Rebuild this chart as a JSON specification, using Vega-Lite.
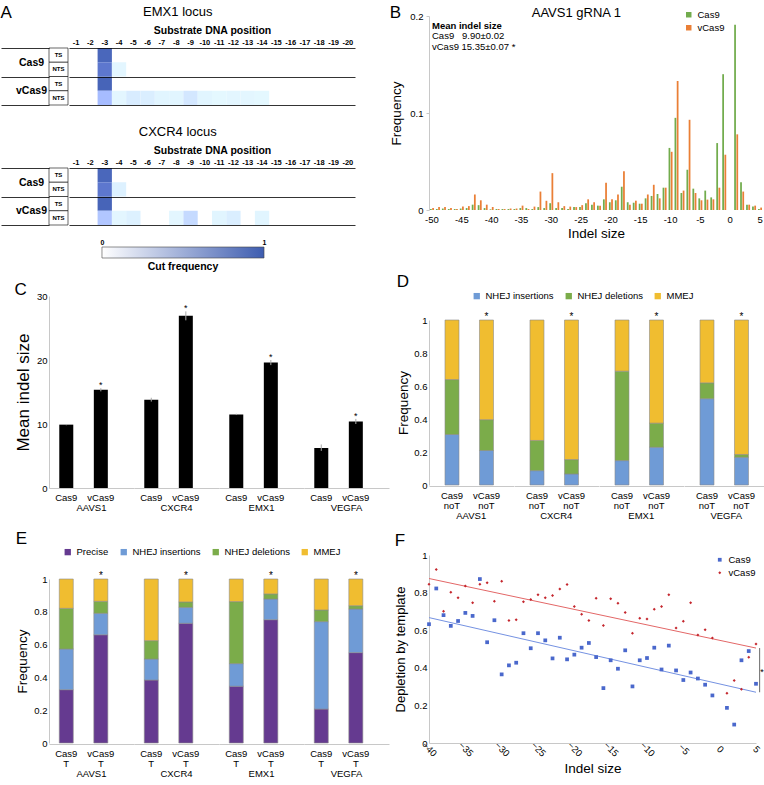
{
  "$schema": "https://vega.github.io/schema/vega-lite/v6.json",
  "padding": {"left": 0, "top": 3, "right": 0, "bottom": 0},
  "background": "white",
  "config": {
    "font": "Liberation Sans",
    "view": {"stroke": null},
    "title": {"font": "Liberation Sans", "fontWeight": "normal", "color": "black"},
    "axis": {"labelFont": "Liberation Sans", "titleFont": "Liberation Sans", "labelColor": "black", "titleColor": "black", "titleFontWeight": "normal", "domainColor": "#c8c8c8", "tickColor": "#c8c8c8", "grid": false, "labelFontSize": 9.5, "ticks": false, "labelOverlap": false},
    "legend": {"labelFont": "Liberation Sans", "labelColor": "black", "labelFontSize": 9.5, "layout": {"top": {"anchor": "middle"}}},
    "header": {"labelFont": "Liberation Sans", "labelColor": "black", "labelFontSize": 9.5}
  },
  "resolve": {"scale": {"color": "independent", "shape": "independent", "size": "independent", "stroke": "independent"}, "legend": {"color": "independent", "shape": "independent", "size": "independent", "stroke": "independent"}},
  "datasets": {
    "rowsA": [
      {"enzyme": "Cas9", "strand": "TS"}, {"enzyme": "Cas9", "strand": "NTS"},
      {"enzyme": "vCas9", "strand": "TS"}, {"enzyme": "vCas9", "strand": "NTS"}
    ],
    "emx1": [
      {"enzyme": "Cas9", "strand": "TS", "pos": -3, "v": 0.93},
      {"enzyme": "Cas9", "strand": "NTS", "pos": -3, "v": 0.82},
      {"enzyme": "Cas9", "strand": "NTS", "pos": -4, "v": 0.03},
      {"enzyme": "vCas9", "strand": "TS", "pos": -3, "v": 0.95},
      {"enzyme": "vCas9", "strand": "NTS", "pos": -3, "v": 0.38},
      {"enzyme": "vCas9", "strand": "NTS", "pos": -4, "v": 0.03},
      {"enzyme": "vCas9", "strand": "NTS", "pos": -5, "v": 0.09},
      {"enzyme": "vCas9", "strand": "NTS", "pos": -6, "v": 0.08},
      {"enzyme": "vCas9", "strand": "NTS", "pos": -7, "v": 0.04},
      {"enzyme": "vCas9", "strand": "NTS", "pos": -8, "v": 0.04},
      {"enzyme": "vCas9", "strand": "NTS", "pos": -9, "v": 0.12},
      {"enzyme": "vCas9", "strand": "NTS", "pos": -10, "v": 0.04},
      {"enzyme": "vCas9", "strand": "NTS", "pos": -11, "v": 0.02},
      {"enzyme": "vCas9", "strand": "NTS", "pos": -12, "v": 0.03},
      {"enzyme": "vCas9", "strand": "NTS", "pos": -13, "v": 0.03},
      {"enzyme": "vCas9", "strand": "NTS", "pos": -14, "v": 0.02}
    ],
    "cxcr4": [
      {"enzyme": "Cas9", "strand": "TS", "pos": -3, "v": 0.93},
      {"enzyme": "Cas9", "strand": "NTS", "pos": -3, "v": 0.82},
      {"enzyme": "Cas9", "strand": "NTS", "pos": -4, "v": 0.06},
      {"enzyme": "vCas9", "strand": "TS", "pos": -3, "v": 0.95},
      {"enzyme": "vCas9", "strand": "NTS", "pos": -3, "v": 0.32},
      {"enzyme": "vCas9", "strand": "NTS", "pos": -4, "v": 0.03},
      {"enzyme": "vCas9", "strand": "NTS", "pos": -5, "v": 0.06},
      {"enzyme": "vCas9", "strand": "NTS", "pos": -8, "v": 0.03},
      {"enzyme": "vCas9", "strand": "NTS", "pos": -9, "v": 0.2},
      {"enzyme": "vCas9", "strand": "NTS", "pos": -11, "v": 0.04},
      {"enzyme": "vCas9", "strand": "NTS", "pos": -12, "v": 0.08},
      {"enzyme": "vCas9", "strand": "NTS", "pos": -14, "v": 0.04}
    ],
    "indels": [
      {"indel": -50, "enzyme": "Cas9", "freq": 0.001}, {"indel": -50, "enzyme": "vCas9", "freq": 0.002},
      {"indel": -49, "enzyme": "Cas9", "freq": 0.001}, {"indel": -49, "enzyme": "vCas9", "freq": 0.003},
      {"indel": -48, "enzyme": "Cas9", "freq": 0.0015}, {"indel": -48, "enzyme": "vCas9", "freq": 0.003},
      {"indel": -47, "enzyme": "Cas9", "freq": 0.001}, {"indel": -47, "enzyme": "vCas9", "freq": 0.002},
      {"indel": -46, "enzyme": "Cas9", "freq": 0.001}, {"indel": -46, "enzyme": "vCas9", "freq": 0.001},
      {"indel": -45, "enzyme": "Cas9", "freq": 0.0015}, {"indel": -45, "enzyme": "vCas9", "freq": 0.0035},
      {"indel": -44, "enzyme": "Cas9", "freq": 0.002}, {"indel": -44, "enzyme": "vCas9", "freq": 0.004},
      {"indel": -43, "enzyme": "Cas9", "freq": 0.0055}, {"indel": -43, "enzyme": "vCas9", "freq": 0.016},
      {"indel": -42, "enzyme": "Cas9", "freq": 0.005}, {"indel": -42, "enzyme": "vCas9", "freq": 0.01},
      {"indel": -41, "enzyme": "Cas9", "freq": 0.002}, {"indel": -41, "enzyme": "vCas9", "freq": 0.0055},
      {"indel": -40, "enzyme": "Cas9", "freq": 0.0007}, {"indel": -40, "enzyme": "vCas9", "freq": 0.003},
      {"indel": -39, "enzyme": "Cas9", "freq": 0.001}, {"indel": -39, "enzyme": "vCas9", "freq": 0.001},
      {"indel": -38, "enzyme": "Cas9", "freq": 0.001}, {"indel": -38, "enzyme": "vCas9", "freq": 0.001},
      {"indel": -37, "enzyme": "Cas9", "freq": 0.001}, {"indel": -37, "enzyme": "vCas9", "freq": 0.0015},
      {"indel": -36, "enzyme": "Cas9", "freq": 0.001}, {"indel": -36, "enzyme": "vCas9", "freq": 0.0015},
      {"indel": -35, "enzyme": "Cas9", "freq": 0.002}, {"indel": -35, "enzyme": "vCas9", "freq": 0.0045},
      {"indel": -34, "enzyme": "Cas9", "freq": 0.002}, {"indel": -34, "enzyme": "vCas9", "freq": 0.001},
      {"indel": -33, "enzyme": "Cas9", "freq": 0.001}, {"indel": -33, "enzyme": "vCas9", "freq": 0.0035},
      {"indel": -32, "enzyme": "Cas9", "freq": 0.003}, {"indel": -32, "enzyme": "vCas9", "freq": 0.019},
      {"indel": -31, "enzyme": "Cas9", "freq": 0.002}, {"indel": -31, "enzyme": "vCas9", "freq": 0.0095},
      {"indel": -30, "enzyme": "Cas9", "freq": 0.007}, {"indel": -30, "enzyme": "vCas9", "freq": 0.038},
      {"indel": -29, "enzyme": "Cas9", "freq": 0.002}, {"indel": -29, "enzyme": "vCas9", "freq": 0.008},
      {"indel": -28, "enzyme": "Cas9", "freq": 0.002}, {"indel": -28, "enzyme": "vCas9", "freq": 0.004},
      {"indel": -27, "enzyme": "Cas9", "freq": 0.001}, {"indel": -27, "enzyme": "vCas9", "freq": 0.0035},
      {"indel": -26, "enzyme": "Cas9", "freq": 0.003}, {"indel": -26, "enzyme": "vCas9", "freq": 0.003},
      {"indel": -25, "enzyme": "Cas9", "freq": 0.003}, {"indel": -25, "enzyme": "vCas9", "freq": 0.005},
      {"indel": -24, "enzyme": "Cas9", "freq": 0.007}, {"indel": -24, "enzyme": "vCas9", "freq": 0.011},
      {"indel": -23, "enzyme": "Cas9", "freq": 0.0055}, {"indel": -23, "enzyme": "vCas9", "freq": 0.008},
      {"indel": -22, "enzyme": "Cas9", "freq": 0.0045}, {"indel": -22, "enzyme": "vCas9", "freq": 0.0045},
      {"indel": -21, "enzyme": "Cas9", "freq": 0.011}, {"indel": -21, "enzyme": "vCas9", "freq": 0.028},
      {"indel": -20, "enzyme": "Cas9", "freq": 0.008}, {"indel": -20, "enzyme": "vCas9", "freq": 0.011},
      {"indel": -19, "enzyme": "Cas9", "freq": 0.01}, {"indel": -19, "enzyme": "vCas9", "freq": 0.016},
      {"indel": -18, "enzyme": "Cas9", "freq": 0.024}, {"indel": -18, "enzyme": "vCas9", "freq": 0.04},
      {"indel": -17, "enzyme": "Cas9", "freq": 0.008}, {"indel": -17, "enzyme": "vCas9", "freq": 0.0055},
      {"indel": -16, "enzyme": "Cas9", "freq": 0.0075}, {"indel": -16, "enzyme": "vCas9", "freq": 0.0096},
      {"indel": -15, "enzyme": "Cas9", "freq": 0.0065}, {"indel": -15, "enzyme": "vCas9", "freq": 0.0065},
      {"indel": -14, "enzyme": "Cas9", "freq": 0.012}, {"indel": -14, "enzyme": "vCas9", "freq": 0.016},
      {"indel": -13, "enzyme": "Cas9", "freq": 0.0145}, {"indel": -13, "enzyme": "vCas9", "freq": 0.026},
      {"indel": -12, "enzyme": "Cas9", "freq": 0.0165}, {"indel": -12, "enzyme": "vCas9", "freq": 0.012},
      {"indel": -11, "enzyme": "Cas9", "freq": 0.023}, {"indel": -11, "enzyme": "vCas9", "freq": 0.023},
      {"indel": -10, "enzyme": "Cas9", "freq": 0.064}, {"indel": -10, "enzyme": "vCas9", "freq": 0.06},
      {"indel": -9, "enzyme": "Cas9", "freq": 0.095}, {"indel": -9, "enzyme": "vCas9", "freq": 0.133},
      {"indel": -8, "enzyme": "Cas9", "freq": 0.0175}, {"indel": -8, "enzyme": "vCas9", "freq": 0.02},
      {"indel": -7, "enzyme": "Cas9", "freq": 0.0415}, {"indel": -7, "enzyme": "vCas9", "freq": 0.093},
      {"indel": -6, "enzyme": "Cas9", "freq": 0.022}, {"indel": -6, "enzyme": "vCas9", "freq": 0.0175},
      {"indel": -5, "enzyme": "Cas9", "freq": 0.012}, {"indel": -5, "enzyme": "vCas9", "freq": 0.01},
      {"indel": -4, "enzyme": "Cas9", "freq": 0.02}, {"indel": -4, "enzyme": "vCas9", "freq": 0.0107},
      {"indel": -3, "enzyme": "Cas9", "freq": 0.013}, {"indel": -3, "enzyme": "vCas9", "freq": 0.011},
      {"indel": -2, "enzyme": "Cas9", "freq": 0.069}, {"indel": -2, "enzyme": "vCas9", "freq": 0.023},
      {"indel": -1, "enzyme": "Cas9", "freq": 0.14}, {"indel": -1, "enzyme": "vCas9", "freq": 0.057},
      {"indel": 1, "enzyme": "Cas9", "freq": 0.191}, {"indel": 1, "enzyme": "vCas9", "freq": 0.078},
      {"indel": 2, "enzyme": "Cas9", "freq": 0.0285}, {"indel": 2, "enzyme": "vCas9", "freq": 0.019},
      {"indel": 3, "enzyme": "Cas9", "freq": 0.0055}, {"indel": 3, "enzyme": "vCas9", "freq": 0.0055},
      {"indel": 4, "enzyme": "Cas9", "freq": 0.0035}, {"indel": 4, "enzyme": "vCas9", "freq": 0.0045},
      {"indel": 5, "enzyme": "Cas9", "freq": 0.001}, {"indel": 5, "enzyme": "vCas9", "freq": 0.0025}
    ],
    "meanIndel": [
      {"gene": "AAVS1", "enzyme": "Cas9", "mean": 9.9, "lo": 9.8, "hi": 10.0, "sig": ""},
      {"gene": "AAVS1", "enzyme": "vCas9", "mean": 15.35, "lo": 15.1, "hi": 15.6, "sig": "*"},
      {"gene": "CXCR4", "enzyme": "Cas9", "mean": 13.8, "lo": 13.5, "hi": 14.1, "sig": ""},
      {"gene": "CXCR4", "enzyme": "vCas9", "mean": 26.9, "lo": 26.2, "hi": 27.6, "sig": "*"},
      {"gene": "EMX1", "enzyme": "Cas9", "mean": 11.5, "lo": 11.4, "hi": 11.6, "sig": ""},
      {"gene": "EMX1", "enzyme": "vCas9", "mean": 19.6, "lo": 19.2, "hi": 20.0, "sig": "*"},
      {"gene": "VEGFA", "enzyme": "Cas9", "mean": 6.25, "lo": 5.8, "hi": 6.8, "sig": ""},
      {"gene": "VEGFA", "enzyme": "vCas9", "mean": 10.4, "lo": 10.0, "hi": 10.8, "sig": "*"}
    ],
    "noT": [
      {"gene": "AAVS1", "enzyme": "Cas9", "cls": "NHEJ insertions", "k": 1, "freq": 0.306},
      {"gene": "AAVS1", "enzyme": "Cas9", "cls": "NHEJ deletions", "k": 2, "freq": 0.333},
      {"gene": "AAVS1", "enzyme": "Cas9", "cls": "MMEJ", "k": 3, "freq": 0.361},
      {"gene": "AAVS1", "enzyme": "vCas9", "cls": "NHEJ insertions", "k": 1, "freq": 0.209},
      {"gene": "AAVS1", "enzyme": "vCas9", "cls": "NHEJ deletions", "k": 2, "freq": 0.187},
      {"gene": "AAVS1", "enzyme": "vCas9", "cls": "MMEJ", "k": 3, "freq": 0.604},
      {"gene": "CXCR4", "enzyme": "Cas9", "cls": "NHEJ insertions", "k": 1, "freq": 0.087},
      {"gene": "CXCR4", "enzyme": "Cas9", "cls": "NHEJ deletions", "k": 2, "freq": 0.183},
      {"gene": "CXCR4", "enzyme": "Cas9", "cls": "MMEJ", "k": 3, "freq": 0.73},
      {"gene": "CXCR4", "enzyme": "vCas9", "cls": "NHEJ insertions", "k": 1, "freq": 0.067},
      {"gene": "CXCR4", "enzyme": "vCas9", "cls": "NHEJ deletions", "k": 2, "freq": 0.087},
      {"gene": "CXCR4", "enzyme": "vCas9", "cls": "MMEJ", "k": 3, "freq": 0.846},
      {"gene": "EMX1", "enzyme": "Cas9", "cls": "NHEJ insertions", "k": 1, "freq": 0.148},
      {"gene": "EMX1", "enzyme": "Cas9", "cls": "NHEJ deletions", "k": 2, "freq": 0.542},
      {"gene": "EMX1", "enzyme": "Cas9", "cls": "MMEJ", "k": 3, "freq": 0.31},
      {"gene": "EMX1", "enzyme": "vCas9", "cls": "NHEJ insertions", "k": 1, "freq": 0.229},
      {"gene": "EMX1", "enzyme": "vCas9", "cls": "NHEJ deletions", "k": 2, "freq": 0.146},
      {"gene": "EMX1", "enzyme": "vCas9", "cls": "MMEJ", "k": 3, "freq": 0.625},
      {"gene": "VEGFA", "enzyme": "Cas9", "cls": "NHEJ insertions", "k": 1, "freq": 0.523},
      {"gene": "VEGFA", "enzyme": "Cas9", "cls": "NHEJ deletions", "k": 2, "freq": 0.096},
      {"gene": "VEGFA", "enzyme": "Cas9", "cls": "MMEJ", "k": 3, "freq": 0.381},
      {"gene": "VEGFA", "enzyme": "vCas9", "cls": "NHEJ insertions", "k": 1, "freq": 0.168},
      {"gene": "VEGFA", "enzyme": "vCas9", "cls": "NHEJ deletions", "k": 2, "freq": 0.017},
      {"gene": "VEGFA", "enzyme": "vCas9", "cls": "MMEJ", "k": 3, "freq": 0.815}
    ],
    "withT": [
      {"gene": "AAVS1", "enzyme": "Cas9", "cls": "Precise", "k": 1, "freq": 0.325},
      {"gene": "AAVS1", "enzyme": "Cas9", "cls": "NHEJ insertions", "k": 2, "freq": 0.248},
      {"gene": "AAVS1", "enzyme": "Cas9", "cls": "NHEJ deletions", "k": 3, "freq": 0.248},
      {"gene": "AAVS1", "enzyme": "Cas9", "cls": "MMEJ", "k": 4, "freq": 0.179},
      {"gene": "AAVS1", "enzyme": "vCas9", "cls": "Precise", "k": 1, "freq": 0.66},
      {"gene": "AAVS1", "enzyme": "vCas9", "cls": "NHEJ insertions", "k": 2, "freq": 0.131},
      {"gene": "AAVS1", "enzyme": "vCas9", "cls": "NHEJ deletions", "k": 3, "freq": 0.073},
      {"gene": "AAVS1", "enzyme": "vCas9", "cls": "MMEJ", "k": 4, "freq": 0.136},
      {"gene": "CXCR4", "enzyme": "Cas9", "cls": "Precise", "k": 1, "freq": 0.384},
      {"gene": "CXCR4", "enzyme": "Cas9", "cls": "NHEJ insertions", "k": 2, "freq": 0.128},
      {"gene": "CXCR4", "enzyme": "Cas9", "cls": "NHEJ deletions", "k": 3, "freq": 0.112},
      {"gene": "CXCR4", "enzyme": "Cas9", "cls": "MMEJ", "k": 4, "freq": 0.376},
      {"gene": "CXCR4", "enzyme": "vCas9", "cls": "Precise", "k": 1, "freq": 0.73},
      {"gene": "CXCR4", "enzyme": "vCas9", "cls": "NHEJ insertions", "k": 2, "freq": 0.097},
      {"gene": "CXCR4", "enzyme": "vCas9", "cls": "NHEJ deletions", "k": 3, "freq": 0.033},
      {"gene": "CXCR4", "enzyme": "vCas9", "cls": "MMEJ", "k": 4, "freq": 0.14},
      {"gene": "EMX1", "enzyme": "Cas9", "cls": "Precise", "k": 1, "freq": 0.346},
      {"gene": "EMX1", "enzyme": "Cas9", "cls": "NHEJ insertions", "k": 2, "freq": 0.138},
      {"gene": "EMX1", "enzyme": "Cas9", "cls": "NHEJ deletions", "k": 3, "freq": 0.378},
      {"gene": "EMX1", "enzyme": "Cas9", "cls": "MMEJ", "k": 4, "freq": 0.138},
      {"gene": "EMX1", "enzyme": "vCas9", "cls": "Precise", "k": 1, "freq": 0.752},
      {"gene": "EMX1", "enzyme": "vCas9", "cls": "NHEJ insertions", "k": 2, "freq": 0.126},
      {"gene": "EMX1", "enzyme": "vCas9", "cls": "NHEJ deletions", "k": 3, "freq": 0.031},
      {"gene": "EMX1", "enzyme": "vCas9", "cls": "MMEJ", "k": 4, "freq": 0.091},
      {"gene": "VEGFA", "enzyme": "Cas9", "cls": "Precise", "k": 1, "freq": 0.207},
      {"gene": "VEGFA", "enzyme": "Cas9", "cls": "NHEJ insertions", "k": 2, "freq": 0.533},
      {"gene": "VEGFA", "enzyme": "Cas9", "cls": "NHEJ deletions", "k": 3, "freq": 0.071},
      {"gene": "VEGFA", "enzyme": "Cas9", "cls": "MMEJ", "k": 4, "freq": 0.189},
      {"gene": "VEGFA", "enzyme": "vCas9", "cls": "Precise", "k": 1, "freq": 0.551},
      {"gene": "VEGFA", "enzyme": "vCas9", "cls": "NHEJ insertions", "k": 2, "freq": 0.266},
      {"gene": "VEGFA", "enzyme": "vCas9", "cls": "NHEJ deletions", "k": 3, "freq": 0.02},
      {"gene": "VEGFA", "enzyme": "vCas9", "cls": "MMEJ", "k": 4, "freq": 0.163}
    ],
    "depletion": [
      {"indel": -40, "enzyme": "Cas9", "dep": 0.632}, {"indel": -39, "enzyme": "Cas9", "dep": 0.822},
      {"indel": -38, "enzyme": "Cas9", "dep": 0.68}, {"indel": -37, "enzyme": "Cas9", "dep": 0.623},
      {"indel": -36, "enzyme": "Cas9", "dep": 0.649}, {"indel": -35, "enzyme": "Cas9", "dep": 0.692},
      {"indel": -34, "enzyme": "Cas9", "dep": 0.676}, {"indel": -33, "enzyme": "Cas9", "dep": 0.872},
      {"indel": -32, "enzyme": "Cas9", "dep": 0.536}, {"indel": -31, "enzyme": "Cas9", "dep": 0.653},
      {"indel": -30, "enzyme": "Cas9", "dep": 0.365}, {"indel": -29, "enzyme": "Cas9", "dep": 0.413},
      {"indel": -28, "enzyme": "Cas9", "dep": 0.427}, {"indel": -27, "enzyme": "Cas9", "dep": 0.584},
      {"indel": -26, "enzyme": "Cas9", "dep": 0.504}, {"indel": -25, "enzyme": "Cas9", "dep": 0.584},
      {"indel": -24, "enzyme": "Cas9", "dep": 0.546}, {"indel": -23, "enzyme": "Cas9", "dep": 0.45},
      {"indel": -22, "enzyme": "Cas9", "dep": 0.56}, {"indel": -21, "enzyme": "Cas9", "dep": 0.445},
      {"indel": -20, "enzyme": "Cas9", "dep": 0.47}, {"indel": -19, "enzyme": "Cas9", "dep": 0.507},
      {"indel": -18, "enzyme": "Cas9", "dep": 0.532}, {"indel": -17, "enzyme": "Cas9", "dep": 0.457},
      {"indel": -16, "enzyme": "Cas9", "dep": 0.292}, {"indel": -15, "enzyme": "Cas9", "dep": 0.44},
      {"indel": -14, "enzyme": "Cas9", "dep": 0.395}, {"indel": -13, "enzyme": "Cas9", "dep": 0.493},
      {"indel": -12, "enzyme": "Cas9", "dep": 0.301}, {"indel": -11, "enzyme": "Cas9", "dep": 0.44},
      {"indel": -10, "enzyme": "Cas9", "dep": 0.452}, {"indel": -9, "enzyme": "Cas9", "dep": 0.507},
      {"indel": -8, "enzyme": "Cas9", "dep": 0.391}, {"indel": -7, "enzyme": "Cas9", "dep": 0.518},
      {"indel": -6, "enzyme": "Cas9", "dep": 0.386}, {"indel": -5, "enzyme": "Cas9", "dep": 0.335},
      {"indel": -4, "enzyme": "Cas9", "dep": 0.375}, {"indel": -3, "enzyme": "Cas9", "dep": 0.343},
      {"indel": -2, "enzyme": "Cas9", "dep": 0.31}, {"indel": -1, "enzyme": "Cas9", "dep": 0.253},
      {"indel": 1, "enzyme": "Cas9", "dep": 0.187}, {"indel": 2, "enzyme": "Cas9", "dep": 0.098},
      {"indel": 3, "enzyme": "Cas9", "dep": 0.44}, {"indel": 4, "enzyme": "Cas9", "dep": 0.489},
      {"indel": 5, "enzyme": "Cas9", "dep": 0.315},
      {"indel": -40, "enzyme": "vCas9", "dep": 0.845}, {"indel": -39, "enzyme": "vCas9", "dep": 0.923},
      {"indel": -38, "enzyme": "vCas9", "dep": 0.701}, {"indel": -37, "enzyme": "vCas9", "dep": 0.802},
      {"indel": -36, "enzyme": "vCas9", "dep": 0.772}, {"indel": -35, "enzyme": "vCas9", "dep": 0.835},
      {"indel": -34, "enzyme": "vCas9", "dep": 0.746}, {"indel": -33, "enzyme": "vCas9", "dep": 0.845},
      {"indel": -32, "enzyme": "vCas9", "dep": 0.852}, {"indel": -31, "enzyme": "vCas9", "dep": 0.754},
      {"indel": -30, "enzyme": "vCas9", "dep": 0.861}, {"indel": -29, "enzyme": "vCas9", "dep": 0.651},
      {"indel": -28, "enzyme": "vCas9", "dep": 0.655}, {"indel": -27, "enzyme": "vCas9", "dep": 0.751},
      {"indel": -26, "enzyme": "vCas9", "dep": 0.763}, {"indel": -25, "enzyme": "vCas9", "dep": 0.788},
      {"indel": -24, "enzyme": "vCas9", "dep": 0.772}, {"indel": -23, "enzyme": "vCas9", "dep": 0.785},
      {"indel": -22, "enzyme": "vCas9", "dep": 0.819}, {"indel": -21, "enzyme": "vCas9", "dep": 0.843},
      {"indel": -20, "enzyme": "vCas9", "dep": 0.726}, {"indel": -19, "enzyme": "vCas9", "dep": 0.685},
      {"indel": -18, "enzyme": "vCas9", "dep": 0.651}, {"indel": -17, "enzyme": "vCas9", "dep": 0.77},
      {"indel": -16, "enzyme": "vCas9", "dep": 0.625}, {"indel": -15, "enzyme": "vCas9", "dep": 0.767},
      {"indel": -14, "enzyme": "vCas9", "dep": 0.744}, {"indel": -13, "enzyme": "vCas9", "dep": 0.694},
      {"indel": -12, "enzyme": "vCas9", "dep": 0.584}, {"indel": -11, "enzyme": "vCas9", "dep": 0.664},
      {"indel": -10, "enzyme": "vCas9", "dep": 0.66}, {"indel": -9, "enzyme": "vCas9", "dep": 0.712},
      {"indel": -8, "enzyme": "vCas9", "dep": 0.726}, {"indel": -7, "enzyme": "vCas9", "dep": 0.788},
      {"indel": -6, "enzyme": "vCas9", "dep": 0.612}, {"indel": -5, "enzyme": "vCas9", "dep": 0.648},
      {"indel": -4, "enzyme": "vCas9", "dep": 0.746}, {"indel": -3, "enzyme": "vCas9", "dep": 0.575},
      {"indel": -2, "enzyme": "vCas9", "dep": 0.603}, {"indel": -1, "enzyme": "vCas9", "dep": 0.559},
      {"indel": 1, "enzyme": "vCas9", "dep": 0.265}, {"indel": 2, "enzyme": "vCas9", "dep": 0.333},
      {"indel": 3, "enzyme": "vCas9", "dep": 0.286}, {"indel": 4, "enzyme": "vCas9", "dep": 0.456},
      {"indel": 5, "enzyme": "vCas9", "dep": 0.527}
    ],
    "fits": [
      {"indel": -40, "series": "Cas9 fit", "dep": 0.667}, {"indel": 5, "series": "Cas9 fit", "dep": 0.27},
      {"indel": -40, "series": "vCas9 fit", "dep": 0.875}, {"indel": 5, "series": "vCas9 fit", "dep": 0.505}
    ]
  },
  "concat": [
    {
      "resolve": {"scale": {"color": "independent", "shape": "independent", "size": "independent", "stroke": "independent"}, "legend": {"color": "independent", "shape": "independent", "size": "independent", "stroke": "independent"}},
      "concat": [
        {"width": 1, "height": 1, "data": {"values": [{}]}, "mark": {"type": "rect", "opacity": 0}, "encoding": {}},
        {
          "resolve": {"scale": {"color": "independent", "shape": "independent", "size": "independent", "stroke": "independent"}, "legend": {"color": "independent", "shape": "independent", "size": "independent", "stroke": "independent"}},
          "concat": [
            {
              "title": {"text": "A", "anchor": "start", "frame": "bounds", "offset": -16, "fontSize": 17},
              "vconcat": [
                {
                  "title": {"text": "EMX1 locus", "fontSize": 13, "offset": 6, "anchor": "middle"},
                  "hconcat": [
                    {
                      "width": 19, "height": 57,
                      "data": {"name": "rowsA"},
                      "encoding": {
                        "y": {"field": "enzyme", "type": "nominal", "scale": {"domain": ["Cas9", "vCas9"], "paddingInner": 0, "paddingOuter": 0},
                          "axis": {"title": null, "domain": false, "ticks": true, "tickSize": 48, "tickBand": "extent", "tickColor": "black", "tickWidth": 0.8, "labelAlign": "center", "labelPadding": -30, "labelFontSize": 10.5, "labelFontWeight": "bold", "labelBaseline": "middle"}},
                        "yOffset": {"field": "strand", "type": "nominal", "scale": {"domain": ["TS", "NTS"], "paddingInner": 0, "paddingOuter": 0}}
                      },
                      "layer": [
                        {"mark": {"type": "rect", "fill": "white", "stroke": "black", "strokeWidth": 0.6}},
                        {"mark": {"type": "text", "fontSize": 6, "fontWeight": "bold"}, "encoding": {"text": {"field": "strand"}}}
                      ]
                    },
                    {
                      "width": 286, "height": 57,
                      "data": {"name": "emx1"},
                      "mark": {"type": "rect"},
                      "encoding": {
                        "x": {"field": "pos", "type": "ordinal", "scale": {"domain": [-1,-2,-3,-4,-5,-6,-7,-8,-9,-10,-11,-12,-13,-14,-15,-16,-17,-18,-19,-20], "paddingInner": 0, "paddingOuter": 0},
                          "axis": {"orient": "top", "title": "Substrate DNA position", "titleFontSize": 10.5, "titleFontWeight": "bold", "titlePadding": 3, "labelFontSize": 7.5, "labelFontWeight": "bold", "labelAngle": 0, "labelPadding": 2, "domain": false, "ticks": false}},
                        "y": {"field": "enzyme", "type": "nominal", "scale": {"domain": ["Cas9", "vCas9"], "paddingInner": 0, "paddingOuter": 0},
                          "axis": {"title": null, "labels": false, "domain": false, "ticks": false, "grid": true, "gridColor": "black", "gridWidth": 0.8, "gridOpacity": 1, "tickBand": "extent", "zindex": 1}},
                        "yOffset": {"field": "strand", "type": "nominal", "scale": {"domain": ["TS", "NTS"], "paddingInner": 0, "paddingOuter": 0}},
                        "color": {"field": "v", "type": "quantitative", "scale": {"domain": [0, 1], "range": ["#ffffff", "#3E5DB0"]}, "legend": null}
                      }
                    }
                  ],
                  "spacing": 0
                },
                {
                  "vconcat": [
                    {
                      "title": {"text": "CXCR4 locus", "fontSize": 13, "offset": 6, "anchor": "middle"},
                      "hconcat": [
                        {
                          "width": 19, "height": 57,
                          "data": {"name": "rowsA"},
                          "encoding": {
                            "y": {"field": "enzyme", "type": "nominal", "scale": {"domain": ["Cas9", "vCas9"], "paddingInner": 0, "paddingOuter": 0},
                              "axis": {"title": null, "domain": false, "ticks": true, "tickSize": 48, "tickBand": "extent", "tickColor": "black", "tickWidth": 0.8, "labelAlign": "center", "labelPadding": -30, "labelFontSize": 10.5, "labelFontWeight": "bold", "labelBaseline": "middle"}},
                            "yOffset": {"field": "strand", "type": "nominal", "scale": {"domain": ["TS", "NTS"], "paddingInner": 0, "paddingOuter": 0}}
                          },
                          "layer": [
                            {"mark": {"type": "rect", "fill": "white", "stroke": "black", "strokeWidth": 0.6}},
                            {"mark": {"type": "text", "fontSize": 6, "fontWeight": "bold"}, "encoding": {"text": {"field": "strand"}}}
                          ]
                        },
                        {
                          "width": 286, "height": 57,
                          "data": {"name": "cxcr4"},
                          "mark": {"type": "rect"},
                          "encoding": {
                            "x": {"field": "pos", "type": "ordinal", "scale": {"domain": [-1,-2,-3,-4,-5,-6,-7,-8,-9,-10,-11,-12,-13,-14,-15,-16,-17,-18,-19,-20], "paddingInner": 0, "paddingOuter": 0},
                              "axis": {"orient": "top", "title": "Substrate DNA position", "titleFontSize": 10.5, "titleFontWeight": "bold", "titlePadding": 3, "labelFontSize": 7.5, "labelFontWeight": "bold", "labelAngle": 0, "labelPadding": 2, "domain": false, "ticks": false}},
                            "y": {"field": "enzyme", "type": "nominal", "scale": {"domain": ["Cas9", "vCas9"], "paddingInner": 0, "paddingOuter": 0},
                              "axis": {"title": null, "labels": false, "domain": false, "ticks": false, "grid": true, "gridColor": "black", "gridWidth": 0.8, "gridOpacity": 1, "tickBand": "extent", "zindex": 1}},
                            "yOffset": {"field": "strand", "type": "nominal", "scale": {"domain": ["TS", "NTS"], "paddingInner": 0, "paddingOuter": 0}},
                            "color": {"field": "v", "type": "quantitative", "scale": {"domain": [0, 1], "range": ["#ffffff", "#3E5DB0"]}, "legend": null}
                          }
                        }
                      ],
                      "spacing": 0
                    },
                    {
                      "width": 268, "height": 11,
                      "data": {"values": [{"lo": 0, "hi": 1}]},
                      "mark": {"type": "rect", "fill": {"gradient": "linear", "stops": [{"offset": 0, "color": "#ffffff"}, {"offset": 1, "color": "#3E5DB0"}]}, "stroke": "#444444", "strokeWidth": 0.6},
                      "encoding": {
                        "x": {"field": "lo", "type": "quantitative", "scale": {"domain": [-0.327, 1.327], "nice": false, "zero": false}, "axis": {"orient": "top", "values": [0, 1], "format": "~g", "title": null, "domain": false, "ticks": false, "labelFontSize": 7, "labelFontWeight": "bold", "labelFlush": false, "labelPadding": 2, "tickCount": 20}},
                        "x2": {"field": "hi"}
                      },
                      "title": {"text": "Cut frequency", "orient": "bottom", "fontSize": 10.5, "fontWeight": "bold", "offset": 4, "anchor": "middle"}
                    }
                  ],
                  "spacing": 12
                }
              ],
              "spacing": 20
            },
            {
              "resolve": {"scale": {"color": "independent"}, "legend": {"color": "independent"}},
              "concat": [
                {
                  "title": {"text": "C", "anchor": "start", "frame": "bounds", "fontSize": 17, "offset": -8},
                  "data": {"name": "meanIndel"},
                  "facet": {"column": {"field": "gene", "type": "nominal", "sort": ["AAVS1", "CXCR4", "EMX1", "VEGFA"], "header": {"title": null, "labelOrient": "bottom", "labelPadding": 1, "labelFontSize": 9.5}}},
                  "spacing": 0,
                  "spec": {
                    "width": 85, "height": 192,
                    "encoding": {"x": {"field": "enzyme", "type": "nominal", "scale": {"domain": ["Cas9", "vCas9"], "paddingInner": 0, "paddingOuter": 0.23, "align": 0}, "axis": {"title": null, "labelAngle": 0, "labelPadding": 4}}},
                    "layer": [
                      {"mark": {"type": "bar", "size": 14, "color": "black"}, "encoding": {"y": {"field": "mean", "type": "quantitative", "scale": {"domain": [0, 30]}, "axis": {"values": [0, 10, 20, 30], "tickCount": 20, "title": "Mean indel size", "titleFontSize": 17, "titlePadding": 4}}}},
                      {"mark": {"type": "rule", "color": "#aaaaaa", "strokeWidth": 1}, "encoding": {"y": {"field": "lo", "type": "quantitative"}, "y2": {"field": "hi"}}},
                      {"mark": {"type": "text", "fontSize": 9, "baseline": "bottom", "dy": 2}, "encoding": {"y": {"field": "hi", "type": "quantitative"}, "text": {"field": "sig"}}}
                    ]
                  }
                },
                {
                  "title": {"text": "E", "anchor": "start", "frame": "bounds", "fontSize": 17, "offset": -1},
                  "data": {"name": "withT"},
                  "facet": {"column": {"field": "gene", "type": "nominal", "sort": ["AAVS1", "CXCR4", "EMX1", "VEGFA"], "header": {"title": null, "labelOrient": "bottom", "labelPadding": 1, "labelFontSize": 9.5}}},
                  "spacing": 0,
                  "spec": {
                    "width": 85, "height": 164,
                    "encoding": {"x": {"field": "enzyme", "type": "nominal", "scale": {"domain": ["Cas9", "vCas9"], "paddingInner": 0, "paddingOuter": 0.23, "align": 0}, "axis": {"title": null, "labelAngle": 0, "labelPadding": 4, "labelExpr": "[datum.value, 'T']", "labelLineHeight": 10}}},
                    "layer": [
                      {"mark": {"type": "bar", "size": 14, "stroke": "#8c8c8c", "strokeWidth": 0.6},
                        "encoding": {
                          "y": {"field": "freq", "type": "quantitative", "stack": "zero", "scale": {"domain": [0, 1]}, "axis": {"values": [0, 0.2, 0.4, 0.6, 0.8, 1], "tickCount": 20, "format": "~g", "title": "Frequency", "titleFontSize": 13.5, "titlePadding": 4}},
                          "color": {"field": "cls", "type": "nominal", "scale": {"domain": ["Precise", "NHEJ insertions", "NHEJ deletions", "MMEJ"], "range": ["#653A90", "#6F9BD6", "#7BAC4A", "#F0BD30"]}, "legend": {"orient": "top", "title": null, "direction": "horizontal", "symbolType": "square", "symbolSize": 40, "columnPadding": 10, "offset": 14, "symbolStrokeWidth": 0}},
                          "order": {"field": "k", "type": "quantitative"}
                        }
                      },
                      {"transform": [{"filter": "datum.enzyme == 'vCas9' && datum.cls == 'MMEJ'"}], "mark": {"type": "text", "text": "*", "baseline": "bottom", "dy": 2, "fontSize": 10}, "encoding": {"y": {"datum": 1}}}
                    ]
                  }
                }
              ],
              "columns": 1, "align": "none", "spacing": 18
            }
          ],
          "columns": 1, "align": "none", "spacing": 8
        }
      ],
      "columns": 1, "align": "none", "spacing": 0
    },
    {
      "resolve": {"scale": {"color": "independent", "shape": "independent", "size": "independent", "stroke": "independent"}, "legend": {"color": "independent", "shape": "independent", "size": "independent", "stroke": "independent"}},
      "concat": [
        {"width": 1, "height": 1, "data": {"values": [{}]}, "mark": {"type": "rect", "opacity": 0}, "encoding": {}},
        {
          "resolve": {"scale": {"color": "independent", "shape": "independent", "size": "independent", "stroke": "independent"}, "legend": {"color": "independent", "shape": "independent", "size": "independent", "stroke": "independent"}},
          "concat": [
            {
              "title": {"text": "B", "anchor": "start", "frame": "bounds", "offset": -15, "fontSize": 17},
              "vconcat": [
                {
                  "title": {"text": "AAVS1 gRNA 1", "fontSize": 13, "anchor": "middle", "frame": "bounds", "offset": -9},
                  "width": 334, "height": 194,
                  "layer": [
                    {
                      "data": {"name": "indels"},
                      "mark": {"type": "bar"},
                      "encoding": {
                        "x": {"field": "indel", "type": "ordinal", "scale": {"domain": [-50,-49,-48,-47,-46,-45,-44,-43,-42,-41,-40,-39,-38,-37,-36,-35,-34,-33,-32,-31,-30,-29,-28,-27,-26,-25,-24,-23,-22,-21,-20,-19,-18,-17,-16,-15,-14,-13,-12,-11,-10,-9,-8,-7,-6,-5,-4,-3,-2,-1,0,1,2,3,4,5], "paddingInner": 0, "paddingOuter": 0},
                          "axis": {"values": [-50,-45,-40,-35,-30,-25,-20,-15,-10,-5,0,5], "title": "Indel size", "titleFontSize": 13.5, "labelAngle": 0, "domain": false, "labelPadding": 4, "titlePadding": 3}},
                        "xOffset": {"field": "enzyme", "type": "nominal", "scale": {"domain": ["Cas9", "vCas9"], "paddingInner": 0.2, "paddingOuter": 0.45}},
                        "y": {"field": "freq", "type": "quantitative", "scale": {"domain": [0, 0.2]}, "axis": {"values": [0, 0.1, 0.2], "tickCount": 20, "format": "~g", "title": "Frequency", "titleFontSize": 13.5, "ticks": true, "tickSize": 3, "labelPadding": 3, "titlePadding": 6}},
                        "color": {"field": "enzyme", "type": "nominal", "scale": {"domain": ["Cas9", "vCas9"], "range": ["#72AC4D", "#EA7F36"]}, "legend": {"orient": "none", "legendX": 255, "legendY": -6, "title": null, "symbolType": "square", "symbolSize": 30, "labelFontSize": 9.5, "rowPadding": 2}}
                      }
                    },
                    {"data": {"values": [{}]}, "mark": {"type": "text", "align": "left", "fontWeight": "bold", "fontSize": 9.5}, "encoding": {"x": {"datum": -50, "type": "ordinal"}, "y": {"datum": 0.19, "type": "quantitative"}, "text": {"value": "Mean indel size"}}},
                    {"data": {"values": [{}]}, "mark": {"type": "text", "align": "left", "fontSize": 9.5}, "encoding": {"x": {"datum": -50, "type": "ordinal"}, "y": {"datum": 0.179, "type": "quantitative"}, "text": {"value": "Cas9\u00a0\u00a0\u00a09.90±0.02"}}},
                    {"data": {"values": [{}]}, "mark": {"type": "text", "align": "left", "fontSize": 9.5}, "encoding": {"x": {"datum": -50, "type": "ordinal"}, "y": {"datum": 0.168, "type": "quantitative"}, "text": {"value": "vCas9 15.35±0.07 *"}}}
                  ]
                }
              ]
            },
            {
              "resolve": {"scale": {"color": "independent", "shape": "independent", "size": "independent", "stroke": "independent"}, "legend": {"color": "independent", "shape": "independent", "size": "independent", "stroke": "independent"}},
              "concat": [
                {
                  "title": {"text": "D", "anchor": "start", "frame": "bounds", "fontSize": 17, "offset": 0},
                  "data": {"name": "noT"},
                  "facet": {"column": {"field": "gene", "type": "nominal", "sort": ["AAVS1", "CXCR4", "EMX1", "VEGFA"], "header": {"title": null, "labelOrient": "bottom", "labelPadding": 1, "labelFontSize": 9.5}}},
                  "spacing": 0,
                  "spec": {
                    "width": 84.5, "height": 165,
                    "encoding": {"x": {"field": "enzyme", "type": "nominal", "scale": {"domain": ["Cas9", "vCas9"], "paddingInner": 0, "paddingOuter": 0.2246, "align": 0.37}, "axis": {"title": null, "labelAngle": 0, "labelPadding": 4, "labelExpr": "[datum.value, 'noT']", "labelLineHeight": 10}}},
                    "layer": [
                      {"mark": {"type": "bar", "size": 14, "stroke": "#8c8c8c", "strokeWidth": 0.6},
                        "encoding": {
                          "y": {"field": "freq", "type": "quantitative", "stack": "zero", "scale": {"domain": [0, 1]}, "axis": {"values": [0, 0.2, 0.4, 0.6, 0.8, 1], "tickCount": 20, "format": "~g", "title": "Frequency", "titleFontSize": 13.5, "titlePadding": 3}},
                          "color": {"field": "cls", "type": "nominal", "scale": {"domain": ["NHEJ insertions", "NHEJ deletions", "MMEJ"], "range": ["#6F9BD6", "#7BAC4A", "#F0BD30"]}, "legend": {"orient": "top", "title": null, "direction": "horizontal", "symbolType": "square", "symbolSize": 40, "columnPadding": 10, "offset": 11, "symbolStrokeWidth": 0}},
                          "order": {"field": "k", "type": "quantitative"}
                        }
                      },
                      {"transform": [{"filter": "datum.enzyme == 'vCas9' && datum.cls == 'MMEJ'"}], "mark": {"type": "text", "text": "*", "baseline": "bottom", "dy": 2, "fontSize": 10}, "encoding": {"y": {"datum": 1}}}
                    ]
                  }
                },
                {
                  "title": {"text": "F", "anchor": "start", "frame": "bounds", "fontSize": 17, "offset": 0},
                  "width": 327, "height": 188,
                  "layer": [
                    {
                      "data": {"name": "fits"},
                      "mark": {"type": "line", "strokeWidth": 1},
                      "encoding": {
                        "x": {"field": "indel", "type": "quantitative", "scale": {"domain": [-40, 5]}, "axis": {"values": [-40,-35,-30,-25,-20,-15,-10,-5,0,5], "tickCount": 20, "title": "Indel size", "titleFontSize": 13.5, "labelAngle": 45, "labelAlign": "center", "labelBaseline": "middle", "labelPadding": 6, "titlePadding": 4}},
                        "y": {"field": "dep", "type": "quantitative", "scale": {"domain": [0, 1]}, "axis": {"values": [0, 0.2, 0.4, 0.6, 0.8, 1], "tickCount": 20, "format": "~g", "title": "Depletion by template", "titleFontSize": 13, "titlePadding": 6}},
                        "stroke": {"field": "series", "type": "nominal", "scale": {"domain": ["Cas9 fit", "vCas9 fit"], "range": ["#7592E2", "#E36767"]}, "legend": null}
                      }
                    },
                    {
                      "data": {"name": "depletion"},
                      "mark": {"type": "point", "filled": true, "opacity": 1},
                      "encoding": {
                        "x": {"field": "indel", "type": "quantitative"},
                        "y": {"field": "dep", "type": "quantitative"},
                        "color": {"field": "enzyme", "type": "nominal", "scale": {"domain": ["Cas9", "vCas9"], "range": ["#4A68CC", "#C4262D"]}, "legend": {"orient": "top-right", "offset": 0, "title": null, "labelFontSize": 9.5, "rowPadding": 2}},
                        "shape": {"field": "enzyme", "type": "nominal", "scale": {"domain": ["Cas9", "vCas9"], "range": ["square", "diamond"]}},
                        "size": {"field": "enzyme", "type": "nominal", "scale": {"domain": ["Cas9", "vCas9"], "range": [14, 9]}}
                      }
                    },
                    {"data": {"values": [{}]}, "mark": {"type": "rule", "color": "#444444", "strokeWidth": 0.8}, "encoding": {"x": {"datum": 5.5, "type": "quantitative"}, "y": {"datum": 0.27, "type": "quantitative"}, "y2": {"datum": 0.505}}},
                    {"data": {"values": [{}]}, "mark": {"type": "text", "fontSize": 9, "align": "left"}, "encoding": {"x": {"datum": 5.6, "type": "quantitative"}, "y": {"datum": 0.38, "type": "quantitative"}, "text": {"value": "*"}}}
                  ]
                }
              ],
              "columns": 1, "align": "none", "spacing": 12
            }
          ],
          "columns": 1, "align": "none", "spacing": 33
        }
      ],
      "columns": 1, "align": "none", "spacing": 0
    }
  ],
  "columns": 2,
  "align": "none",
  "spacing": 0
}
